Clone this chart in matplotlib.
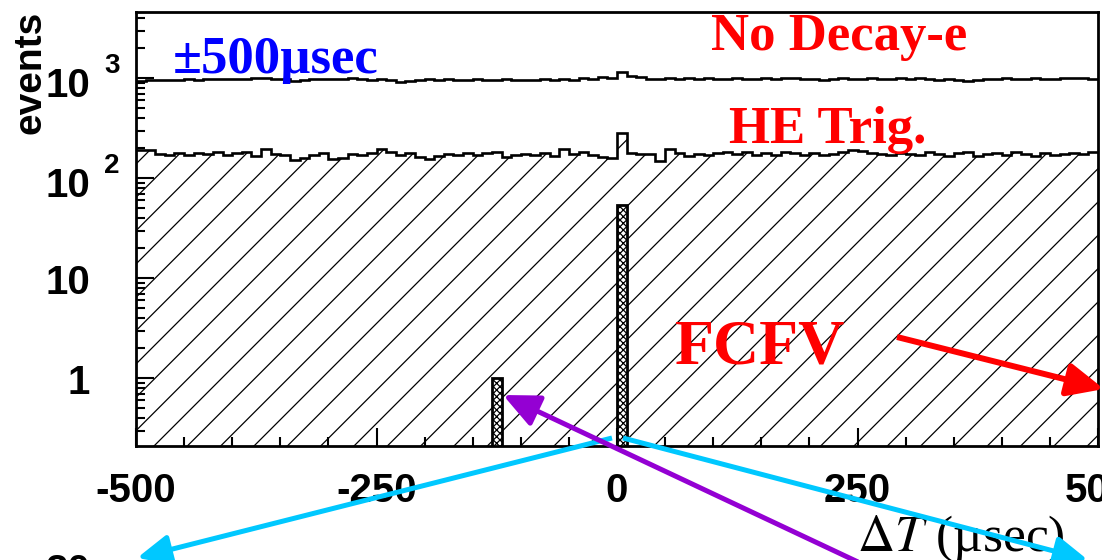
import numpy as np
import matplotlib
matplotlib.use("Agg")
import matplotlib.pyplot as plt
from matplotlib.patches import FancyArrowPatch
from matplotlib.ticker import MultipleLocator, LogLocator, NullFormatter
from matplotlib.transforms import blended_transform_factory, offset_copy

# ---------------- data ----------------
x_min, x_max, bin_width = -500, 500, 10

no_decay_e = [
    940, 950, 960, 955, 965, 975, 970, 980, 985, 975,
    990, 985, 995, 1000, 990, 975, 945, 960, 985, 990,
    975, 985, 995, 980, 970, 980, 955, 915, 935, 960,
    975, 965, 980, 955, 970, 985, 965, 950, 975, 960,
    970, 955, 985, 965, 990, 950, 1000, 985, 1035, 1010,
    1150, 1055, 1030, 975, 990, 1000, 985, 995, 980, 1005,
    990, 985, 1000, 975, 990, 1010, 985, 995, 1015, 990,
    980, 965, 990, 1000, 985, 975, 995, 980, 990, 1000,
    985, 995, 980, 970, 990, 960, 935, 965, 985, 990,
    995, 980, 985, 1000, 975, 990, 995, 1005, 995, 990,
]

he_trig = [
    192, 190, 175, 170, 178, 172, 180, 176, 182, 170,
    178, 184, 168, 196, 175, 170, 152, 158, 172, 178,
    156, 158, 175, 170, 180, 194, 185, 172, 178, 165,
    155, 168, 175, 172, 178, 170, 180, 182, 165, 170,
    176, 172, 180, 168, 195, 176, 185, 170, 164, 158,
    282, 180, 176, 175, 148, 198, 180, 168, 175, 172,
    180, 185, 175, 182, 172, 178, 170, 184, 180, 172,
    178, 170, 175, 182, 190, 186, 180, 175, 172, 180,
    176, 170, 182, 175, 168, 178, 182, 168, 175, 180,
    172, 184, 175, 168, 178, 172, 176, 180, 174, 185,
]

fcfv_bin_low = [-130, 0]      # lower edge of non-empty bins
fcfv_counts = [1, 54]

xtick_values = [-500, -250, 0, 250, 500]
xtick_labels = ["-500", "-250", "0", "250", "500"]
ytick_values = [1, 10, 100, 1000]
ytick_base = ["1", "10", "10", "10"]
ytick_exp = ["", "", "2", "3"]

# ---------------- figure ----------------
W, H = 1102, 560
fig = plt.figure(figsize=(W / 100, H / 100), dpi=100)
fig.patch.set_facecolor("white")
plt.rcParams["hatch.linewidth"] = 0.9
plt.rcParams["mathtext.fontset"] = "stix"


def fx(x):
    return x / W


def fy(y):
    return 1 - y / H


ax = fig.add_axes([fx(136), fy(446), (1098 - 136) / W, (446 - 12) / H])
ax.set_yscale("log")
ax.set_xlim(x_min, x_max)
ax.set_ylim(0.21, 4600)

edges = np.arange(x_min, x_max + bin_width, bin_width)
nb = len(edges) - 1
floor = 1e-3

fcfv = np.full(nb, floor)
for lo, c in zip(fcfv_bin_low, fcfv_counts):
    fcfv[int((lo - x_min) // bin_width)] = c

# HE Trig. : hatched fill + outline
ax.stairs(he_trig, edges, baseline=floor, fill=True, facecolor="white",
          edgecolor="black", hatch="/", linewidth=0, zorder=1)
ax.stairs(he_trig, edges, baseline=None, color="black", linewidth=1.9, zorder=3)
# No Decay-e : outline only
ax.stairs(no_decay_e, edges, baseline=None, color="black", linewidth=1.9, zorder=3)
# FCFV : dense cross-hatch bars
ax.stairs(fcfv, edges, baseline=floor, fill=True, facecolor="white",
          edgecolor="black", hatch="xxxxx", linewidth=0, zorder=2)
ax.stairs(fcfv, edges, baseline=floor, color="black", linewidth=2.0, zorder=3)

for s in ax.spines.values():
    s.set_linewidth(2.0)
    s.set_zorder(5)

ax.xaxis.set_major_locator(MultipleLocator(250))
ax.xaxis.set_minor_locator(MultipleLocator(50))
ax.set_xticks(xtick_values)
ax.set_xticklabels(xtick_labels, fontfamily="Liberation Sans",
                   fontweight="bold", fontsize=29)
ax.set_yticks(ytick_values)
ax.set_yticklabels([""] * len(ytick_values))
ax.yaxis.set_minor_locator(LogLocator(base=10, subs=np.arange(2, 10)))
ax.yaxis.set_minor_formatter(NullFormatter())
ax.tick_params(which="both", direction="in", top=False, right=False, width=1.5)
ax.tick_params(which="major", length=13)
ax.tick_params(which="minor", length=6.5)
ax.tick_params(axis="x", which="major", pad=19)

# y tick labels in ROOT style
bt = blended_transform_factory(ax.transAxes, ax.transData)
for v, b, e in zip(ytick_values, ytick_base, ytick_exp):
    if e:
        tb = offset_copy(bt, fig=fig, x=0, y=-19, units="dots")
        ax.text((90 - 136) / 962, v, b, transform=tb, ha="right", va="baseline",
                fontfamily="Liberation Sans", fontweight="bold", fontsize=29,
                clip_on=False)
        te = offset_copy(bt, fig=fig, x=0, y=5, units="dots")
        ax.text((104 - 136) / 962, v, e, transform=te, ha="left", va="baseline",
                fontfamily="Liberation Sans", fontweight="bold", fontsize=20,
                clip_on=False)
    else:
        tb = offset_copy(bt, fig=fig, x=0, y=-16, units="dots")
        ax.text((90 - 136) / 962, v, b, transform=tb, ha="right", va="baseline",
                fontfamily="Liberation Sans", fontweight="bold", fontsize=29,
                clip_on=False)

# y title
fig.text(fx(30), fy(11), "events", rotation=90, ha="center", va="top",
         fontfamily="Liberation Sans", fontweight="bold", fontsize=28)

# annotations
serif = "Liberation Serif"
fig.text(fx(276), fy(73), "±500µsec", ha="center", va="baseline",
         fontfamily=serif, fontweight="bold", fontsize=38, color="#0000ff")
fig.text(fx(839), fy(50), "No Decay-e", ha="center", va="baseline",
         fontfamily=serif, fontweight="bold", fontsize=38, color="#ff0000")
fig.text(fx(828), fy(143), "HE Trig.", ha="center", va="baseline",
         fontfamily=serif, fontweight="bold", fontsize=38, color="#ff0000")
fig.text(fx(760), fy(363), "FCFV", ha="center", va="baseline",
         fontfamily=serif, fontweight="bold", fontsize=46, color="#ff0000")
fig.text(fx(857), fy(551), r"$\Delta T$ (µsec)", ha="left", va="baseline",
         fontfamily=serif, fontsize=37, color="black")
fig.text(fx(90), fy(553), "20", ha="right", va="top",
         fontfamily="Liberation Sans", fontweight="bold", fontsize=29)


def arrow(p0, p1, color, lw, hl=20, hw=9):
    a = FancyArrowPatch((fx(p0[0]), fy(p0[1])), (fx(p1[0]), fy(p1[1])),
                        transform=fig.transFigure,
                        arrowstyle=f"-|>,head_length={hl},head_width={hw}",
                        mutation_scale=1, color=color, linewidth=lw,
                        shrinkA=0, shrinkB=0, capstyle="butt", zorder=10)
    fig.add_artist(a)


arrow((612, 438), (137, 558), "#00c8ff", 3.6)
arrow((623, 438), (1088, 560), "#00c8ff", 3.6)
arrow((858, 562), (503, 395), "#9400d3", 3.6, hl=22, hw=10)
arrow((897, 337), (1104, 389), "#ff0000", 4.3, hl=22, hw=10)

fig.savefig("out.png", dpi=100)
